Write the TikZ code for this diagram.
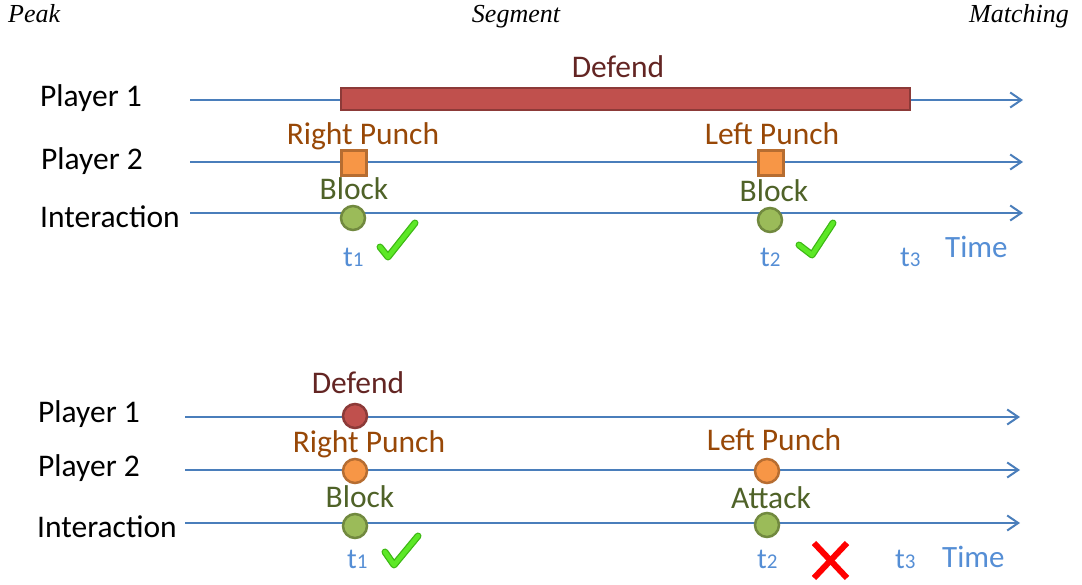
\documentclass[tikz,border=0pt]{standalone}
\usepackage{fontspec}
\setmainfont{Liberation Serif}
\newfontfamily\calibri{Carlito}
\usetikzlibrary{arrows.meta}

\definecolor{axisblue}{HTML}{4A7EBB}
\definecolor{timeblue}{HTML}{558ED5}
\definecolor{redfill}{HTML}{C0504D}
\definecolor{redline}{HTML}{8C3A38}
\definecolor{redtext}{HTML}{632523}
\definecolor{orangefill}{HTML}{F79646}
\definecolor{orangeline}{HTML}{B66D31}
\definecolor{orangetext}{HTML}{984807}
\definecolor{greenfill}{HTML}{9BBB59}
\definecolor{greenline}{HTML}{71893F}
\definecolor{greentext}{HTML}{4F6228}
\definecolor{checkdark}{HTML}{3DB814}
\definecolor{checklight}{HTML}{5CE826}

\tikzset{
  heading/.style={font=\fontsize{26}{30}\selectfont\itshape, anchor=base, inner sep=0pt},
  rowlabel/.style={font=\calibri\fontsize{31.5}{36}\selectfont, anchor=base west, inner sep=0pt},
  evlabel/.style={font=\calibri\fontsize{31.5}{36}\selectfont, anchor=base, inner sep=0pt},
  timeline/.style={draw=axisblue, line width=2pt, -{Straight Barb[length=11pt,width=15pt,line width=2pt]}},
  redbar/.style={draw=redline, fill=redfill, line width=2.5pt},
  sqmark/.style={rectangle, draw=orangeline, fill=orangefill, line width=2.5pt, minimum size=25pt, inner sep=0pt},
  dot/.style={circle, line width=2.5pt, minimum size=24pt, inner sep=0pt},
  reddot/.style={dot, draw=redline, fill=redfill},
  orangedot/.style={dot, draw=orangeline, fill=orangefill},
  greendot/.style={dot, draw=greenline, fill=greenfill},
  tick/.style={font=\calibri\fontsize{29}{33}\selectfont, text=timeblue, anchor=base west, inner sep=0pt},
  timeword/.style={tick, font=\calibri\fontsize{31}{36}\selectfont},
  checkback/.style={draw=checkdark, line width=7pt, line cap=round, line join=round},
  checkfront/.style={draw=checklight, line width=4.5pt, line cap=round, line join=round},
  crossline/.style={draw=red, line width=6pt},
}
\newcommand{\tlabel}[1]{t{\fontsize{21}{24}\selectfont #1}}

\begin{document}
\begin{tikzpicture}[x=1pt, y=-1pt]
\useasboundingbox (0,0) rectangle (1082,585);

% headings
\node[heading, anchor=base west] (hpeak) at (8,23) {Peak};
\node[heading] (hseg) at (516,23) {Segment};
\node[heading, anchor=base east] (hmatch) at (1069,23) {Matching};

% ---------- upper timeline: segment view ----------
\node[rowlabel] (ua) at (40,107) {Player 1};
\node[rowlabel] (ub) at (41,170) {Player 2};
\node[rowlabel] (uc) at (40,228) {Interaction};

\coordinate (ua0) at (190,100);  \coordinate (ua1) at (1023,100);
\coordinate (ub0) at (190,162);  \coordinate (ub1) at (1023,162);
\coordinate (uc0) at (190,213);  \coordinate (uc1) at (1023,213);
\draw[timeline] (ua0) -- (ua1);
\draw[timeline] (ub0) -- (ub1);
\draw[timeline] (uc0) -- (uc1);

\draw[redbar] (341,88) rectangle (910,110);
\node[evlabel, text=redtext] (udef) at (618,78) {Defend};

\node[sqmark] (usq1) at (354,163) {};
\node[sqmark] (usq2) at (771,163) {};
\node[evlabel, text=orangetext] (urp) at (363,145) {Right Punch};
\node[evlabel, text=orangetext] (ulp) at (772,145) {Left Punch};

\node[greendot] (ug1) at (353,218) {};
\node[greendot] (ug2) at (770,220) {};
\node[evlabel, text=greentext] (ubl1) at (354,200) {Block};
\node[evlabel, text=greentext] (ubl2) at (774,202) {Block};

\node[tick] (ut1) at (343,267) {\tlabel{1}};
\node[tick] (ut2) at (760,267) {\tlabel{2}};
\node[tick] (ut3) at (900,267) {\tlabel{3}};
\node[timeword] (utime) at (945,258) {Time};

\draw[checkback] (380,247) -- (388,257) -- (415,223);
\draw[checkfront] (380,247) -- (388,257) -- (415,223);
\draw[checkback] (799,245) -- (812,255) -- (833,223);
\draw[checkfront] (799,245) -- (812,255) -- (833,223);

% ---------- lower timeline: peak view ----------
\node[rowlabel] (la) at (38,422) {Player 1};
\node[rowlabel] (lb) at (38,476) {Player 2};
\node[rowlabel] (lc) at (37,537) {Interaction};

\coordinate (la0) at (185,417);  \coordinate (la1) at (1020,417);
\coordinate (lb0) at (185,470);  \coordinate (lb1) at (1020,470);
\coordinate (lc0) at (185,523);  \coordinate (lc1) at (1020,523);
\draw[timeline] (la0) -- (la1);
\draw[timeline] (lb0) -- (lb1);
\draw[timeline] (lc0) -- (lc1);

\node[reddot] (lr1) at (355,416) {};
\node[evlabel, text=redtext] (ldef) at (358,393) {Defend};

\node[orangedot] (lo1) at (355,471) {};
\node[orangedot] (lo2) at (767,471) {};
\node[evlabel, text=orangetext] (lrp) at (369,452) {Right Punch};
\node[evlabel, text=orangetext] (llp) at (774,450) {Left Punch};

\node[greendot] (lg1) at (355,526) {};
\node[greendot] (lg2) at (767,525) {};
\node[evlabel, text=greentext] (lbl) at (360,507) {Block};
\node[evlabel, text=greentext] (latk) at (771,508) {Attack};

\node[tick] (lt1) at (347,568) {\tlabel{1}};
\node[tick] (lt2) at (757,568) {\tlabel{2}};
\node[tick] (lt3) at (895,568) {\tlabel{3}};
\node[timeword] (ltime) at (942,567) {Time};

\draw[checkback] (385,552) -- (394,565) -- (418,536);
\draw[checkfront] (385,552) -- (394,565) -- (418,536);

\draw[crossline] (814,543) -- (847,578);
\draw[crossline] (847,543) -- (814,578);
\end{tikzpicture}
\end{document}
